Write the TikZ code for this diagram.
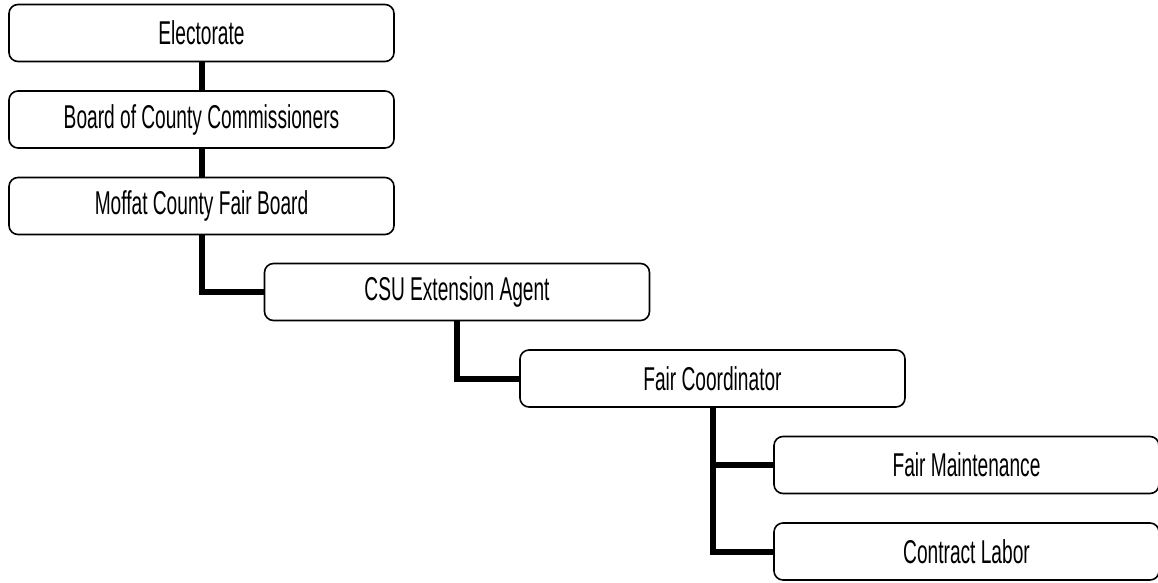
\documentclass[tikz,border=0pt]{standalone}
\usepackage{fontspec}
\setmainfont[FakeStretch=0.58]{Liberation Sans}
\usepackage{tikz}
\usetikzlibrary{calc,positioning}

\begin{document}
\begin{tikzpicture}[x=1pt,y=1pt]
            \tikzstyle{orgbox}=[draw=black,line width=1.6pt,rounded corners=9pt,minimum width=385pt,minimum height=57pt,inner sep=0pt,font=\fontsize{33}{36}\selectfont]
            \tikzstyle{link}=[draw=black,line width=6pt]
            \useasboundingbox (0,0) rectangle (1158,-583);
            \node [orgbox] (elec) at (201.5,-33) {Electorate};
            \node [orgbox] (board) at (201.5,-119.5) {Board of County Commissioners};
            \node [orgbox] (fairboard) at (201.5,-206) {Moffat County Fair Board};
            \node [orgbox] (csu) at (457,-292) {CSU Extension Agent};
            \node [orgbox] (coord) at (712.5,-378.5) {Fair Coordinator};
            \node [orgbox] (maint) at (966.5,-465) {Fair Maintenance};
            \node [orgbox] (labor) at (966.5,-551.5) {Contract Labor};
            \draw [link] (elec) -- (board);
            \draw [link] (board) -- (fairboard);
            \draw [link] (fairboard.south) |- (csu.west);
            \draw [link] (csu.south) |- (coord.west);
            \draw [link] (coord.south) |- (maint.west);
            \draw [link] (coord.south) |- (labor.west);
\end{tikzpicture}
\end{document}
